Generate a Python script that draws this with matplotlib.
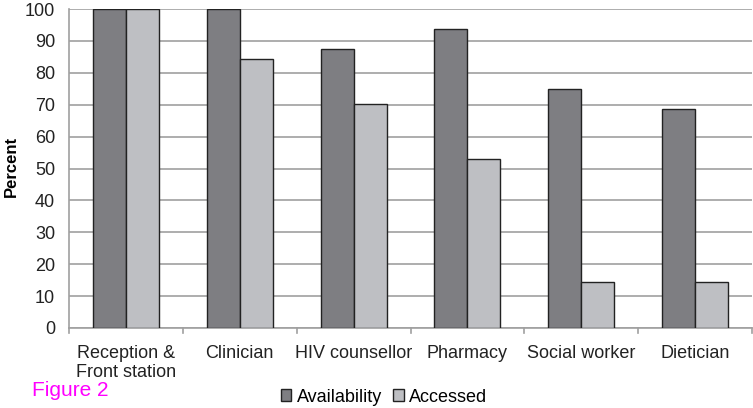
import numpy as np
import matplotlib.pyplot as plt

categories = ['Reception &\nFront station', 'Clinician', 'HIV counsellor',
              'Pharmacy', 'Social worker', 'Dietician']
availability = [100, 100, 87.5, 93.75, 75, 68.75]
accessed = [100, 84.4, 70.2, 53.1, 14.3, 14.3]

plt.rcParams['font.family'] = ['Liberation Sans', 'DejaVu Sans']

fig = plt.figure(figsize=(7.53, 4.08), dpi=100)
ax = fig.add_axes([69 / 753, 80 / 408, 683 / 753, 319 / 408])

x = np.arange(len(categories))
w = 0.29
ax.bar(x - w / 2, availability, w, color='#7e7e82', edgecolor='#222222',
       linewidth=1.0, label='Availability', zorder=3)
ax.bar(x + w / 2, accessed, w, color='#bebfc3', edgecolor='#222222',
       linewidth=1.0, label='Accessed', zorder=3)

ax.set_xlim(-0.5, len(categories) - 0.5)
ax.set_ylim(0, 100)
ax.set_yticks(range(0, 101, 10))
ax.yaxis.grid(True, color='#a0a0a0', linewidth=1.2, zorder=0)
ax.set_xticks(x)
ax.set_xticklabels(categories, fontsize=13, color='#222222', linespacing=1.2)
ax.tick_params(axis='x', length=0, pad=12)
ax.tick_params(axis='y', length=0, labelsize=13, labelcolor='#222222', pad=10)
for b in np.arange(-0.5, len(categories), 1.0):
    ax.plot([b, b], [0, -1.6], color='#a0a0a0', linewidth=1.2,
            clip_on=False, zorder=4)

for s in ['top', 'right']:
    ax.spines[s].set_visible(False)
for s in ['left', 'bottom']:
    ax.spines[s].set_color('#a0a0a0')
    ax.spines[s].set_linewidth(1.2)

fig.text(11 / 753, 1 - 166 / 408, 'Percent', fontsize=12, fontweight='bold',
         rotation=90, ha='center', va='center')

fig.legend(loc='center', bbox_to_anchor=(384 / 753, 1 - 397 / 408), ncol=2,
           frameon=False, fontsize=13, handlelength=0.6, handleheight=0.6,
           handletextpad=0.3, columnspacing=0.6)

fig.text(32 / 753, 1 - 390 / 408, 'Figure 2', color='#ff00ff', fontsize=15,
         va='center', ha='left')

fig.savefig('out.png', dpi=100)
